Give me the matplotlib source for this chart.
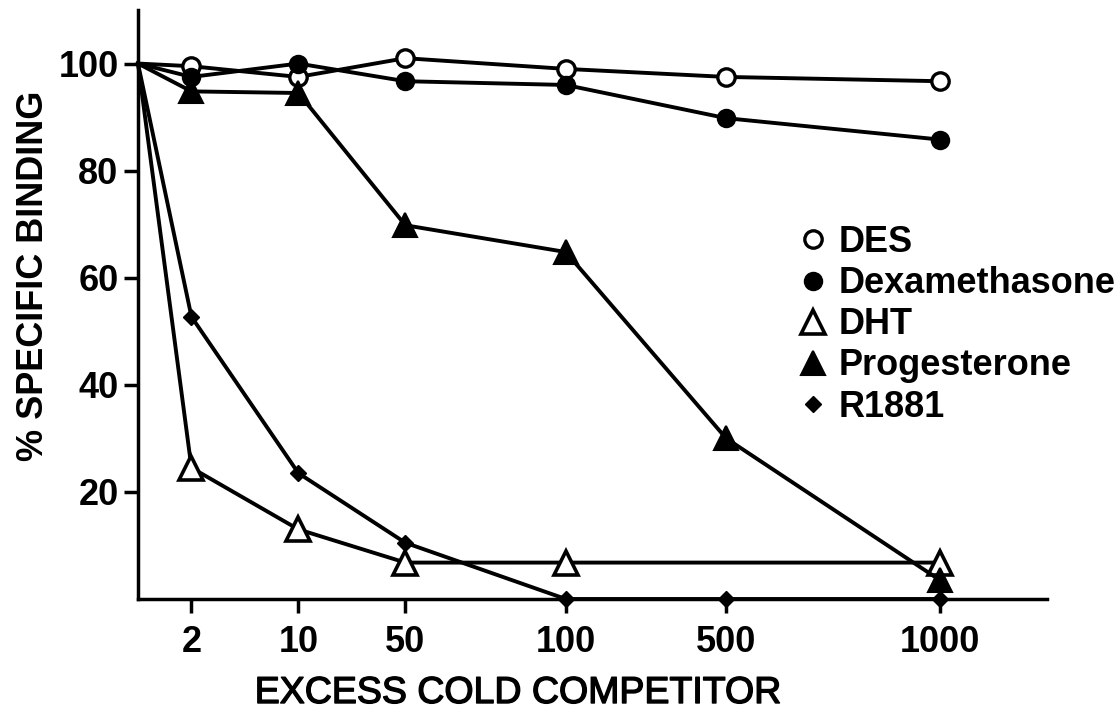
import matplotlib
matplotlib.use("Agg")
import matplotlib.pyplot as plt
from matplotlib.lines import Line2D
import matplotlib.patheffects as pe

plt.rcParams['font.family'] = ['Liberation Sans', 'DejaVu Sans']

# ---- data ----
dose_labels = ["2", "10", "50", "100", "500", "1000"]
doses = [0, 2, 10, 50, 100, 500, 1000]          # 0 = no competitor (start point)

des_doses = [0, 2, 10, 50, 100, 500, 1000]
des_vals = [100, 99.5, 97.5, 101, 99, 97.5, 96.7]

dex_doses = [0, 2, 10, 50, 100, 500, 1000]
dex_vals = [100, 97.5, 100, 96.7, 96, 89.8, 85.8]

dht_doses = [0, 2, 10, 50, 100, 1000]
dht_vals = [100, 24.5, 13, 6.8, 6.8, 6.8]

prog_doses = [0, 2, 10, 50, 100, 500, 1000]
prog_vals = [100, 94.8, 94.5, 69.8, 64.8, 30, 3.5]

r1881_doses = [0, 2, 10, 50, 100, 500, 1000]
r1881_vals = [100, 52.7, 23.5, 10.5, 0, 0, 0]

y_ticks = [20, 40, 60, 80, 100]

# ---- layout: uneven category spacing along the x axis ----
slot = {0: 0.0, 2: 0.5, 10: 1.5, 50: 2.5, 100: 4.0, 500: 5.5, 1000: 7.5}

def xs(ds):
    return [slot[d] for d in ds]

fig = plt.figure(figsize=(11.19, 7.11), dpi=100)
ax = fig.add_axes([138 / 1119, 112 / 711, (1047 - 138) / 1119, (599 - 10) / 711])

lw = 2.8
series = [
    ("DES", des_doses, des_vals, dict(marker='o', ms=12.5, mfc='white', mec='black', mew=2.4)),
    ("DHT", dht_doses, dht_vals, dict(marker='^', ms=17.5, mfc='white', mec='black', mew=2.6)),
    ("R1881", r1881_doses, r1881_vals, dict(marker='D', ms=8, mfc='black', mec='black', mew=1)),
    ("Progesterone", prog_doses, prog_vals, dict(marker='^', ms=17.5, mfc='black', mec='black', mew=1.5)),
    ("Dexamethasone", dex_doses, dex_vals, dict(marker='o', ms=12.5, mfc='black', mec='black', mew=1.5)),
]

handles = {}
for i, (name, ds, vals, st) in enumerate(series):
    x = xs(ds)
    ax.plot(x, vals, color='black', lw=lw, zorder=3 + i, clip_on=False)
    ax.plot(x[1:], vals[1:], linestyle='none', zorder=3 + i, clip_on=False, **st)
    handles[name] = Line2D([], [], linestyle='none', **st)

ax.set_xlim(0, 8.5)
ax.set_ylim(0, 110)

ax.set_xticks([slot[int(d)] for d in dose_labels])
ax.set_xticklabels(dose_labels)
ax.set_yticks(y_ticks)
ax.set_yticklabels([str(v) for v in y_ticks])

for side in ['top', 'right']:
    ax.spines[side].set_visible(False)
for side in ['left', 'bottom']:
    ax.spines[side].set_linewidth(2.5)

ax.tick_params(axis='x', direction='out', length=10, width=2.5, pad=9, labelsize=26)
ax.tick_params(axis='y', direction='out', length=10, width=2.5, pad=4, labelsize=26)
for lab in ax.get_xticklabels() + ax.get_yticklabels():
    lab.set_fontweight('bold')

order = ["DES", "Dexamethasone", "DHT", "Progesterone", "R1881"]
leg = ax.legend([handles[n] for n in order], order,
                loc='upper left', bbox_to_anchor=(799 / 1119, 1 - 225 / 711),
                bbox_transform=fig.transFigure, frameon=False,
                borderpad=0, borderaxespad=0, handlelength=0.8, handletextpad=0.3,
                labelspacing=0.17, prop=dict(family='Liberation Sans', weight='bold', size=26))

fig.text(518 / 1119, (711 - 703) / 711, "EXCESS COLD COMPETITOR", ha='center', va='baseline',
         fontsize=27, path_effects=[pe.withStroke(linewidth=1.0, foreground='black')])
fig.text(43 / 1119, 1 - 276 / 711, "% SPECIFIC BINDING", rotation=90, rotation_mode='anchor',
         ha='center', va='baseline', fontsize=26, fontweight='bold')

fig.savefig("out.png", dpi=100, facecolor='white')
